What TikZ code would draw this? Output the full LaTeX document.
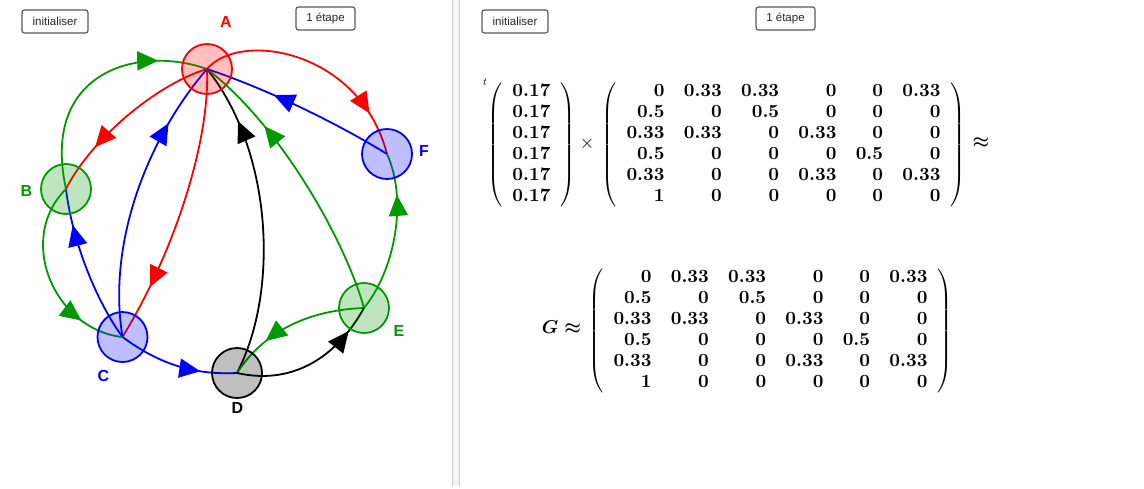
\documentclass[tikz,border=0pt]{standalone}
\usepackage{fix-cm}
\usepackage{amsmath}
\usepackage{fontspec}
\setsansfont{Liberation Sans}
\usepackage{tikz}
\usetikzlibrary{calc,positioning,arrows.meta,decorations.markings,backgrounds}
\definecolor{webgreen}{RGB}{0,153,0}
\newfont{\matbf}{cmbx10 at 18.6pt}
\newcommand{\mb}[1]{\mbox{\matbf #1}}
\tikzset{
  vertex/.style={circle, draw=#1, fill=#1, fill opacity=0.25, line width=1.8pt, minimum size=50pt, inner sep=0pt},
  link/.style={line width=1.8pt, decoration={markings, mark=at position #1 with {\arrow{Triangle[length=21pt, width=19pt]}}}, postaction={decorate}},
  vlabel/.style={font=\fontsize{16}{16}\sffamily\bfseries, inner sep=0pt},
  btn/.style={draw=black!65, line width=1.2pt, rounded corners=2.5pt, font=\fontsize{11.5}{11.5}\sffamily, text=black!85, minimum height=23pt, inner sep=0pt},
  mathnode/.style={inner sep=0pt, font=\fontsize{18.6}{20.9}\selectfont}
}
\newcommand{\probmat}{%
  \setlength{\arraycolsep}{9.65pt}%
  \left(\begin{array}{rrrrrr}
    \mb{0} & \mb{0.33} & \mb{0.33} & \mb{0} & \mb{0} & \mb{0.33}\\
    \mb{0.5} & \mb{0} & \mb{0.5} & \mb{0} & \mb{0} & \mb{0}\\
    \mb{0.33} & \mb{0.33} & \mb{0} & \mb{0.33} & \mb{0} & \mb{0}\\
    \mb{0.5} & \mb{0} & \mb{0} & \mb{0} & \mb{0.5} & \mb{0}\\
    \mb{0.33} & \mb{0} & \mb{0} & \mb{0.33} & \mb{0} & \mb{0.33}\\
    \mb{1} & \mb{0} & \mb{0} & \mb{0} & \mb{0} & \mb{0}
  \end{array}\right)}
\begin{document}
\begin{tikzpicture}[x=1pt, y=-1pt]
  \useasboundingbox (0,0) rectangle (1144,488);
  \fill[black!4] (452.5,0) rectangle (459.5,486);
  \draw[black!20, line width=0.7pt] (452.5,0) -- (452.5,486) (459.5,0) -- (459.5,486);

  \node[vertex=red] (A) at (207,69) {};
  \node[vertex=webgreen] (B) at (66,189) {};
  \node[vertex=blue] (C) at (122.5,337) {};
  \node[vertex=black] (D) at (237,373) {};
  \node[vertex=webgreen] (E) at (364,308) {};
  \node[vertex=blue] (F) at (387,154) {};

  \node[vlabel, red] (labA) at (226,22) {A};
  \node[vlabel, webgreen] (labB) at (26.5,191) {B};
  \node[vlabel, blue] (labC) at (103.5,376) {C};
  \node[vlabel, black] (labD) at (237.5,408) {D};
  \node[vlabel, webgreen] (labE) at (399,331) {E};
  \node[vlabel, blue] (labF) at (424,151) {F};

  \begin{scope}[on background layer]
    \draw[link=0.79, webgreen] (B.center) .. controls +(-26,-119) and +(-67,-24) .. (A.center);
    \draw[link=0.81, red] (A.center) .. controls +(33,-39) and +(-27,-104) .. (F.center);
    \draw[link=0.73, red] (A.center) .. controls +(-50,15) and +(25,-50) .. (B.center);
    \draw[link=0.80, red] (A.center) .. controls +(3,71) and +(53,-87) .. (C.center);
    \draw[link=0.77, blue] (C.center) .. controls +(-16,-97) and +(-57,66) .. (A.center);
    \draw[link=0.81, black] (D.center) .. controls +(43,-83) and +(65,81) .. (A.center);
    \draw[link=0.72, webgreen] (E.center) .. controls +(-19,-68) and +(73,56) .. (A.center);
    \draw[link=0.64, blue] (F.center) .. controls +(-47,-29) and +(63,21) .. (A.center);
    \draw[link=0.74, webgreen] (E.center) .. controls +(31,-38) and +(21,46) .. (F.center);
    \draw[link=0.71, webgreen] (E.center) .. controls +(-54,2) and +(28,-43) .. (D.center);
    \draw[link=0.82, black] (D.center) .. controls +(53,12) and +(-29,52) .. (E.center);
    \draw[link=0.70, blue] (C.center) .. controls +(38,28) and +(-42,2) .. (D.center);
    \draw[link=0.77, blue] (C.center) .. controls +(-27,-37) and +(6,51) .. (B.center);
    \draw[link=0.77, webgreen] (B.center) .. controls +(-51,51) and +(-67,-7) .. (C.center);
  \end{scope}

  \node[btn, minimum width=66pt] (initL) at (55,21.5) {initialiser};
  \node[btn, minimum width=59pt] (stepL) at (325.5,18.5) {1 étape};
  \node[btn, minimum width=66pt] (initR) at (515,21.5) {initialiser};
  \node[btn, minimum width=59pt] (stepR) at (785.5,18.5) {1 étape};

  \node[mathnode] (vect) at (531.5,145) {$\setlength{\arraycolsep}{9.65pt}\left(\begin{array}{r}
    \mb{0.17}\\ \mb{0.17}\\ \mb{0.17}\\ \mb{0.17}\\ \mb{0.17}\\ \mb{0.17}
  \end{array}\right)$};
  \node[inner sep=0pt, font=\fontsize{11}{11}\selectfont] (trans) at (485,82) {$t$};
  \node[mathnode] (mattop) at (783.5,145) {$\probmat$};
  \node[mathnode] (times) at (587,144) {$\times$};
  \node[mathnode] (apptop) at (981,143) {$\boldsymbol{\approx}$};
  \node[mathnode] (matbot) at (770.5,331) {$\probmat$};
  \node[mathnode] (gapp) at (561.5,327.5) {$\boldsymbol{G\approx}$};
\end{tikzpicture}
\end{document}
